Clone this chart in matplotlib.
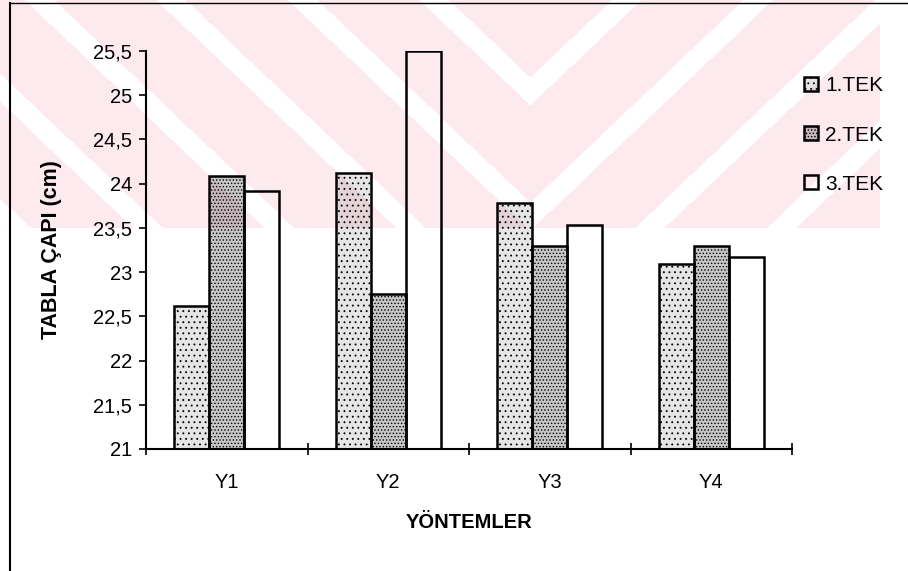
import numpy as np
import matplotlib
matplotlib.use("Agg")
import matplotlib.pyplot as plt
from matplotlib.lines import Line2D

plt.rcParams["font.family"] = ["Liberation Sans", "DejaVu Sans"]
plt.rcParams["hatch.linewidth"] = 0.6
plt.rcParams["hatch.color"] = "black"

# Data
methods = ["Y1", "Y2", "Y3", "Y4"]
series_names = ["1.TEK", "2.TEK", "3.TEK"]
tek1 = [22.62, 24.12, 23.78, 23.09]
tek2 = [24.09, 22.75, 23.30, 23.29]
tek3 = [23.92, 25.50, 23.53, 23.17]
y_ticks = [21, 21.5, 22, 22.5, 23, 23.5, 24, 24.5, 25, 25.5]
y_tick_labels = ["21", "21,5", "22", "22,5", "23", "23,5", "24", "24,5", "25", "25,5"]

W, H = 908, 571
fig = plt.figure(figsize=(W / 100, H / 100), dpi=100)

# Faint pink background mark in the upper band
yy, xx = np.mgrid[0:H, 0:W]
band = (yy < 228) & (xx < 880)
chev = np.mod(yy + 0.95 * np.abs(xx - 530) + 20, 125) < 97
mask = band & chev
bg = np.zeros((H, W, 4))
bg[..., 0] = 253 / 255
bg[..., 1] = 234 / 255
bg[..., 2] = 239 / 255
bg[..., 3] = mask.astype(float)
fig.figimage(bg, xo=0, yo=0, origin="upper", zorder=-1)

ax = fig.add_axes([146 / W, 1 - 449 / H, (792 - 146) / W, (449 - 51) / H])
ax.patch.set_alpha(0)

x = np.arange(len(methods))
bw = 0.217
styles = [
    dict(facecolor=(0, 0, 0, 0.10), hatch="..."),
    dict(facecolor=(0, 0, 0, 0.22), hatch="....."),
    dict(facecolor="none", hatch=None),
]
handles = []
for i, (vals, name, st) in enumerate(zip([tek1, tek2, tek3], series_names, styles)):
    b = ax.bar(x + (i - 1) * bw, np.array(vals) - 21, bottom=21, width=bw,
               edgecolor="black", linewidth=1.8, label=name, **st)
    handles.append(b)

ax.set_xlim(-0.5, 3.5)
ax.set_ylim(21, 25.5)

ax.set_yticks(y_ticks)
ax.set_yticklabels(y_tick_labels, fontsize=14.5)
ax.tick_params(axis="y", direction="out", length=5, width=1.2, pad=5)

ax.set_xticks(np.arange(-0.5, 4.0, 1.0))
ax.set_xticklabels([])
ax.tick_params(axis="x", which="major", direction="inout", length=9, width=1.2)
ax.set_xticks(x, minor=True)
ax.set_xticklabels(methods, minor=True, fontsize=14.5)
ax.tick_params(axis="x", which="minor", length=0, pad=17)

for s in ["top", "right"]:
    ax.spines[s].set_visible(False)
for s in ["left", "bottom"]:
    ax.spines[s].set_linewidth(1.5)

ax.set_ylabel("TABLA ÇAPI (cm)", fontsize=15.5, fontweight="bold")
ax.yaxis.set_label_coords((62 - 146) / 646, 0.5)
ax.set_xlabel("YÖNTEMLER", fontsize=14.5, fontweight="bold")
ax.xaxis.label.set_va("center")
ax.xaxis.set_label_coords(0.5, (449 - 522) / 398)

fig.legend(handles=handles, labels=series_names, loc="upper left",
           bbox_to_anchor=(796 / W, 1 - 68 / H), frameon=False, fontsize=15,
           handlelength=0.65, handleheight=0.65, handletextpad=0.35,
           labelspacing=1.45, borderaxespad=0)

# Outer frame: left edge and top edge
fig.add_artist(Line2D([10 / W, 10 / W], [0, 1 - 3 / H], color="black", linewidth=1.5,
                      transform=fig.transFigure))
fig.add_artist(Line2D([10 / W, 1], [1 - 3 / H, 1 - 3 / H], color="black", linewidth=1.0,
                      transform=fig.transFigure))

fig.savefig("out.png", dpi=100)
